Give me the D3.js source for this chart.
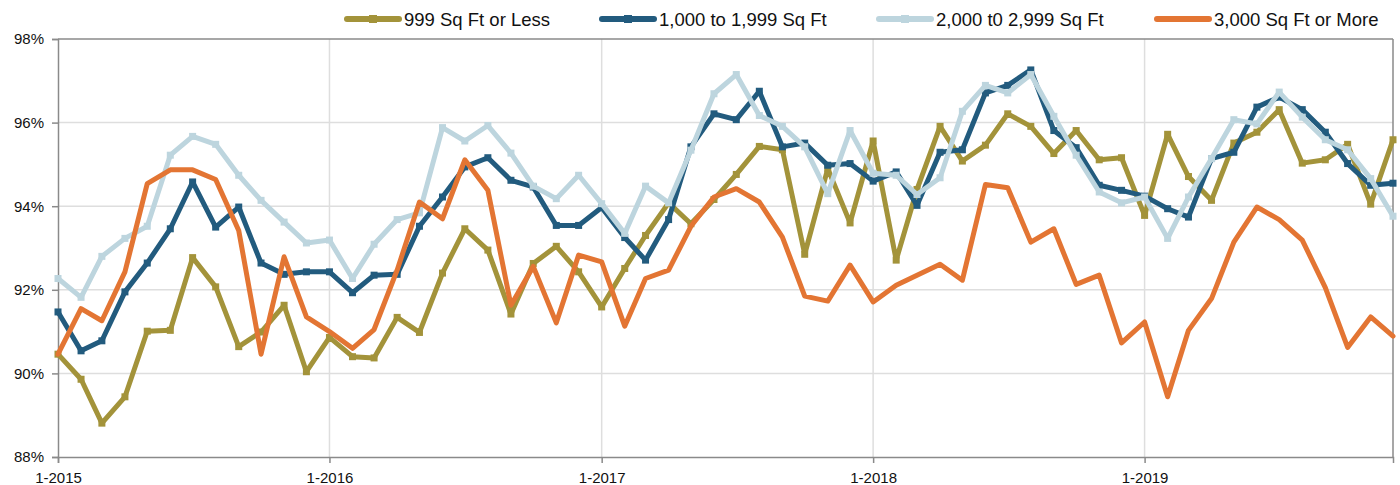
<!DOCTYPE html>
<html>
<head>
<meta charset="utf-8">
<script src="https://cdn.jsdelivr.net/npm/d3@7"></script>
<style>
  body { margin: 0; background: #fff; }
  svg text { font-family: "Liberation Sans", Arial, Helvetica, sans-serif; fill: #111; }
</style>
</head>
<body>
<div id="chart"></div>
<script>
// monthly data, Jan 2015 .. Dec 2019 (percent)
const months = d3.range(60).map(i => new Date(2015, i, 1));

const seriesNames = ['999 Sq Ft or Less', '1,000 to 1,999 Sq Ft', '2,000 t0 2,999 Sq Ft', '3,000 Sq Ft or More'];
const seriesColors = ['#a3933a', '#225b7e', '#bdd5de', '#e37533'];

const under1000 = [
  90.46, 89.86, 88.81, 89.44, 91.01, 91.03, 92.77, 92.07, 90.64, 90.99, 91.63, 90.04,
  90.86, 90.40, 90.37, 91.34, 90.98, 92.40, 93.46, 92.95, 91.42, 92.63, 93.04, 92.43,
  91.59, 92.51, 93.30, 94.08, 93.58, 94.16, 94.76, 95.43, 95.35, 92.85, 94.90, 93.60,
  95.56, 92.71, 94.40, 95.91, 95.08, 95.46, 96.21, 95.91, 95.26, 95.81, 95.11, 95.16,
  93.78, 95.72, 94.71, 94.14, 95.51, 95.77, 96.31, 95.03, 95.11, 95.48, 94.05, 95.59
];
const from1000 = [
  91.47, 90.54, 90.78, 91.95, 92.64, 93.46, 94.58, 93.50, 93.98, 92.64, 92.37, 92.43,
  92.43, 91.93, 92.35, 92.37, 93.52, 94.22, 94.94, 95.16, 94.62, 94.46, 93.54, 93.54,
  93.97, 93.25, 92.71, 93.68, 95.42, 96.21, 96.07, 96.75, 95.42, 95.51, 94.98, 95.02,
  94.60, 94.82, 94.02, 95.29, 95.35, 96.71, 96.89, 97.26, 95.81, 95.40, 94.50, 94.38,
  94.24, 93.94, 93.74, 95.14, 95.29, 96.37, 96.61, 96.31, 95.77, 95.02, 94.50, 94.55
];
const from2000 = [
  92.27, 91.82, 92.80, 93.23, 93.52, 95.22, 95.67, 95.48, 94.74, 94.14, 93.62, 93.12,
  93.19, 92.27, 93.09, 93.68, 93.84, 95.88, 95.56, 95.93, 95.27, 94.48, 94.18, 94.74,
  94.06, 93.35, 94.48, 94.08, 95.34, 96.69, 97.15, 96.17, 95.91, 95.42, 94.30, 95.81,
  94.79, 94.74, 94.28, 94.68, 96.27, 96.89, 96.71, 97.15, 96.15, 95.22, 94.34, 94.08,
  94.22, 93.23, 94.22, 95.14, 96.07, 95.97, 96.73, 96.13, 95.59, 95.35, 94.66, 93.76
];
const over3000 = [
  90.46, 91.55, 91.26, 92.43, 94.54, 94.87, 94.87, 94.64, 93.42, 90.46, 92.79, 91.35,
  91.00, 90.60, 91.05, 92.47, 94.10, 93.70, 95.11, 94.38, 91.63, 92.56, 91.21, 92.83,
  92.67, 91.13, 92.27, 92.47, 93.52, 94.22, 94.42, 94.10, 93.26, 91.85, 91.73, 92.59,
  91.71, 92.11, 92.35, 92.61, 92.23, 94.52, 94.44, 93.14, 93.46, 92.13, 92.35, 90.73,
  91.23, 89.44, 91.03, 91.79, 93.14, 93.98, 93.68, 93.19, 92.05, 90.62, 91.35, 90.89
];
const seriesValues = [under1000, from1000, from2000, over3000];
const withMarkers = [true, true, true, false];

const yTicks = [88, 90, 92, 94, 96, 98];
const xTickDates = [new Date(2015, 0, 1), new Date(2016, 0, 1), new Date(2017, 0, 1), new Date(2018, 0, 1), new Date(2019, 0, 1)];
const xTickLabels = ['1-2015', '1-2016', '1-2017', '1-2018', '1-2019'];

const W = 1400, H = 485;
const margin = { top: 39, right: 7, bottom: 28, left: 58 };
const width = W - margin.left - margin.right;
const height = H - margin.top - margin.bottom;

const svg = d3.select('#chart').append('svg')
  .attr('width', W).attr('height', H);
const g = svg.append('g').attr('transform', `translate(${margin.left},${margin.top})`);

const x = d3.scaleTime().domain([months[0], months[59]]).range([0, width]);
const y = d3.scaleLinear().domain([88, 98]).range([height, 0]);

// grid
g.append('g').selectAll('line.hgrid')
  .data(yTicks.slice(1, -1)).enter().append('line')
  .attr('x1', 0).attr('x2', width)
  .attr('y1', d => y(d)).attr('y2', d => y(d))
  .attr('stroke', '#dedede').attr('stroke-width', 1.5);
g.append('g').selectAll('line.vgrid')
  .data(xTickDates.slice(1)).enter().append('line')
  .attr('x1', d => x(d)).attr('x2', d => x(d))
  .attr('y1', 0).attr('y2', height)
  .attr('stroke', '#dedede').attr('stroke-width', 1.5);

// frame top + right
g.append('line').attr('x1', 0).attr('x2', width).attr('y1', 0).attr('y2', 0)
  .attr('stroke', '#8a8a8a').attr('stroke-width', 1.5);
g.append('line').attr('x1', width).attr('x2', width).attr('y1', 0).attr('y2', height)
  .attr('stroke', '#8a8a8a').attr('stroke-width', 1.5);

// axes
const yAxis = g.append('g')
  .call(d3.axisLeft(y).tickValues(yTicks).tickFormat(d => d + '%').tickSize(6).tickPadding(8));
const xAxis = g.append('g').attr('transform', `translate(0,${height})`)
  .call(d3.axisBottom(x).tickValues(xTickDates).tickFormat((d, i) => xTickLabels[i]).tickSize(6).tickPadding(9));
[yAxis, xAxis].forEach(ax => {
  ax.select('.domain').attr('stroke', '#8a8a8a').attr('stroke-width', 1.5);
  ax.selectAll('.tick line').attr('stroke', '#8a8a8a').attr('stroke-width', 1.5);
  ax.selectAll('text').style('font-size', '15px').attr('fill', '#111');
});

// lines
const line = d3.line().x((d, i) => x(months[i])).y(d => y(d));
seriesValues.forEach((vals, k) => {
  g.append('path')
    .datum(vals)
    .attr('fill', 'none')
    .attr('stroke', seriesColors[k])
    .attr('stroke-width', 5)
    .attr('stroke-linejoin', 'round')
    .attr('stroke-linecap', 'round')
    .attr('d', line);
  if (withMarkers[k]) {
    g.append('g').selectAll('rect')
      .data(vals).enter().append('rect')
      .attr('x', (d, i) => x(months[i]) - 3.5)
      .attr('y', d => y(d) - 3.5)
      .attr('width', 7).attr('height', 7)
      .attr('fill', seriesColors[k]);
  }
});

// legend
const legendX = [345, 600, 877, 1155];
const legend = svg.append('g');
seriesNames.forEach((name, k) => {
  const item = legend.append('g').attr('transform', `translate(${legendX[k]},19)`);
  item.append('line').attr('x1', 2).attr('x2', 54).attr('y1', 0).attr('y2', 0)
    .attr('stroke', seriesColors[k]).attr('stroke-width', 6).attr('stroke-linecap', 'round');
  if (withMarkers[k]) {
    item.append('rect').attr('x', 24).attr('y', -4).attr('width', 8).attr('height', 8)
      .attr('fill', seriesColors[k]);
  }
  item.append('text').attr('x', 59).attr('y', 7)
    .style('font-size', '18.5px').text(name);
});
</script>
</body>
</html>
